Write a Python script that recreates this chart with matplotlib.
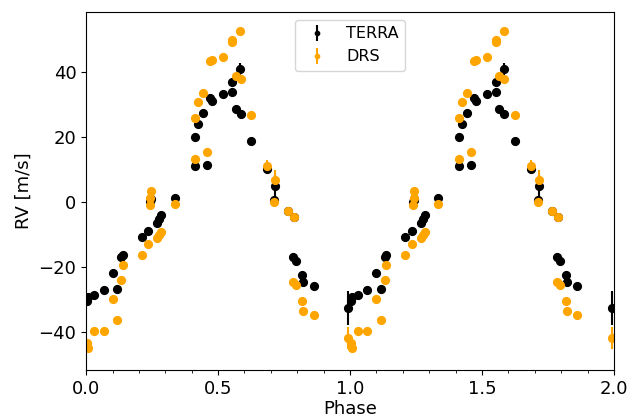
import numpy as np
import matplotlib
matplotlib.use("Agg")
import matplotlib.pyplot as plt
from matplotlib.ticker import MultipleLocator

# phase-folded radial velocities, TERRA and DRS pipelines
phase = np.array([0.003, 0.006, 0.030, 0.066, 0.100, 0.117, 0.131, 0.138,
                  0.210, 0.235, 0.240, 0.242, 0.244, 0.270, 0.276, 0.285,
                  0.335, 0.412, 0.412, 0.425, 0.443, 0.458, 0.470, 0.476,
                  0.519, 0.553, 0.554, 0.566, 0.582, 0.585, 0.624, 0.686,
                  0.716, 0.713, 0.766, 0.789, 0.785, 0.794, 0.819, 0.823,
                  0.862, 0.992])
rv_terra = np.array([-30.6, -29.1, -28.6, -27.2, -21.7, -26.7, -17.0, -16.2,
                     -10.9, -8.8, -0.1, 0.6, 1.0, -6.3, -5.2, -3.9,
                     1.4, 11.0, 20.2, 24.1, 27.4, 11.3, 32.2, 31.3,
                     33.4, 36.9, 34.1, 28.7, 41.0, 27.2, 18.9, 10.2,
                     5.1, 0.7, -2.6, -4.6, -16.8, -18.3, -22.4, -24.7,
                     -25.8, -32.7])
rv_drs = np.array([-43.5, -45.0, -39.6, -39.6, -29.8, -36.3, -24.1, -19.3,
                   -16.3, -12.9, -0.8, 1.2, 3.3, -11.1, -10.1, -9.1,
                   -0.5, 13.2, 25.8, 30.9, 33.6, 15.4, 43.5, 43.9,
                   44.6, 50.0, 49.3, 38.9, 52.7, 37.9, 26.9, 11.2,
                   6.7, -0.1, -2.6, -4.6, -24.7, -25.7, -30.6, -33.7,
                   -34.7, -41.9])
err_terra = np.array([1.0, 1.0, 1.0, 1.0, 1.0, 1.0, 1.0, 1.0,
                      1.0, 1.0, 1.0, 1.0, 1.0, 1.0, 1.0, 1.0,
                      1.0, 1.0, 1.0, 1.0, 1.0, 1.0, 1.0, 1.0,
                      1.0, 1.0, 1.0, 1.0, 1.8, 1.0, 1.0, 1.2,
                      3.5, 1.0, 1.0, 1.0, 1.0, 1.0, 1.0, 1.0,
                      1.0, 5.2])
err_drs = np.array([1.0, 1.2, 1.0, 1.0, 1.0, 1.0, 1.0, 1.0,
                    1.0, 1.0, 1.0, 1.0, 1.0, 1.0, 1.0, 1.0,
                    1.0, 1.0, 1.0, 1.0, 1.0, 1.0, 1.0, 1.0,
                    1.0, 1.0, 1.0, 1.0, 1.0, 1.0, 1.0, 1.8,
                    3.3, 1.0, 1.0, 1.0, 1.0, 1.0, 1.0, 1.0,
                    1.0, 3.5])

# show two cycles
ph2 = np.concatenate([phase, phase + 1])

fig = plt.figure(figsize=(6.29, 4.16), dpi=100)
ax = fig.add_axes([0.137, 0.111, 0.839, 0.860])

ax.errorbar(ph2, np.tile(rv_terra, 2), yerr=np.tile(err_terra, 2),
            fmt='o', color='black', ms=5.6, label='TERRA')
ax.errorbar(ph2, np.tile(rv_drs, 2), yerr=np.tile(err_drs, 2),
            fmt='o', color='orange', ms=5.6, label='DRS')

ax.set_xlim(0, 2)
ax.set_ylim(-51.7, 58.6)
ax.xaxis.set_major_locator(MultipleLocator(0.5))
ax.xaxis.set_minor_locator(MultipleLocator(0.1))
ax.yaxis.set_major_locator(MultipleLocator(20))
ax.tick_params(labelsize=13)

ax.set_xlabel('Phase', fontsize=13, labelpad=2)
ax.set_ylabel('RV [m/s]', fontsize=13)
ax.legend(loc='upper center', fontsize=11.5, markerscale=0.55)

fig.savefig('out.png', dpi=100)
